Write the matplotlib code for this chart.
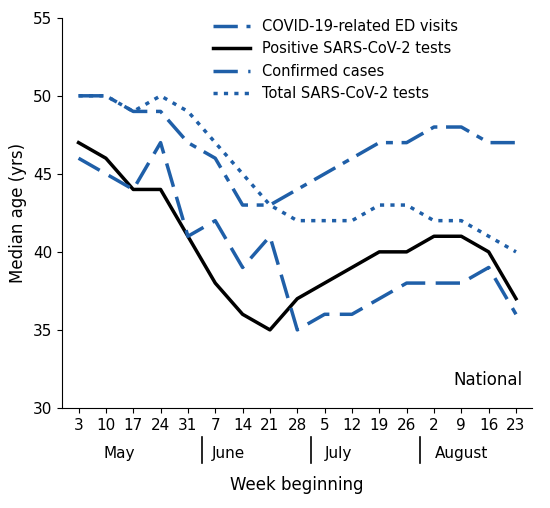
import matplotlib
matplotlib.use("Agg")
import matplotlib.pyplot as plt

days = ["3","10","17","24","31","7","14","21","28","5","12","19","26","2","9","16","23"]
months = ["May","June","July","August"]
ed = [50,50,49,49,47,46,43,43,44,45,46,47,47,48,48,47,47]
pos = [47,46,44,44,41,38,36,35,37,38,39,40,40,41,41,40,37]
conf = [46,45,44,47,41,42,39,41,35,36,36,37,38,38,38,39,36]
tot = [50,50,49,50,49,47,45,43,42,42,42,43,43,42,42,41,40]

blue = "#1f5fa8"
fig = plt.figure(figsize=(5.5,5.08), dpi=100)
ax = fig.add_axes([0.113, 0.197, 0.855, 0.768])
x = list(range(len(days)))
ax.plot(x, ed, color=blue, lw=2.5, dashes=(7,2.5,2,2.5), label="COVID-19-related ED visits")
ax.plot(x, pos, color="black", lw=2.5, label="Positive SARS-CoV-2 tests")
ax.plot(x, conf, color=blue, lw=2.5, dashes=(7,3), label="Confirmed cases")
ax.plot(x, tot, color=blue, lw=2.5, dashes=(1.2,1.8), label="Total SARS-CoV-2 tests")
ax.set_xlim(-0.6, 16.6)
ax.set_ylim(30, 55)
ax.set_yticks(range(30,56,5))
ax.set_xticks(x)
ax.set_xticklabels(days)
ax.tick_params(labelsize=11)
for s in ["top","right"]:
    ax.spines[s].set_visible(False)
ax.set_ylabel("Median age (yrs)", fontsize=12)
ax.legend(loc="upper right", frameon=False, fontsize=10.5, handlelength=2.6, bbox_to_anchor=(0.87,1.03))
ax.text(0.98, 0.06, "National", transform=ax.transAxes, ha="right", fontsize=12)
centers = [1.5, 5.5, 9.5, 14]
for c, m in zip(centers, months):
    ax.annotate(m, xy=(c, 0), xycoords=("data","axes fraction"), xytext=(0,-36), textcoords="offset points", ha="center", fontsize=11)
for b in [4.5, 8.5, 12.5]:
    ax.plot([b,b],[-0.075,-0.14], transform=ax.get_xaxis_transform(), color="black", lw=1.2, clip_on=False)
fig.text(0.54, 0.035, "Week beginning", ha="center", fontsize=12)
fig.savefig("out.png")
